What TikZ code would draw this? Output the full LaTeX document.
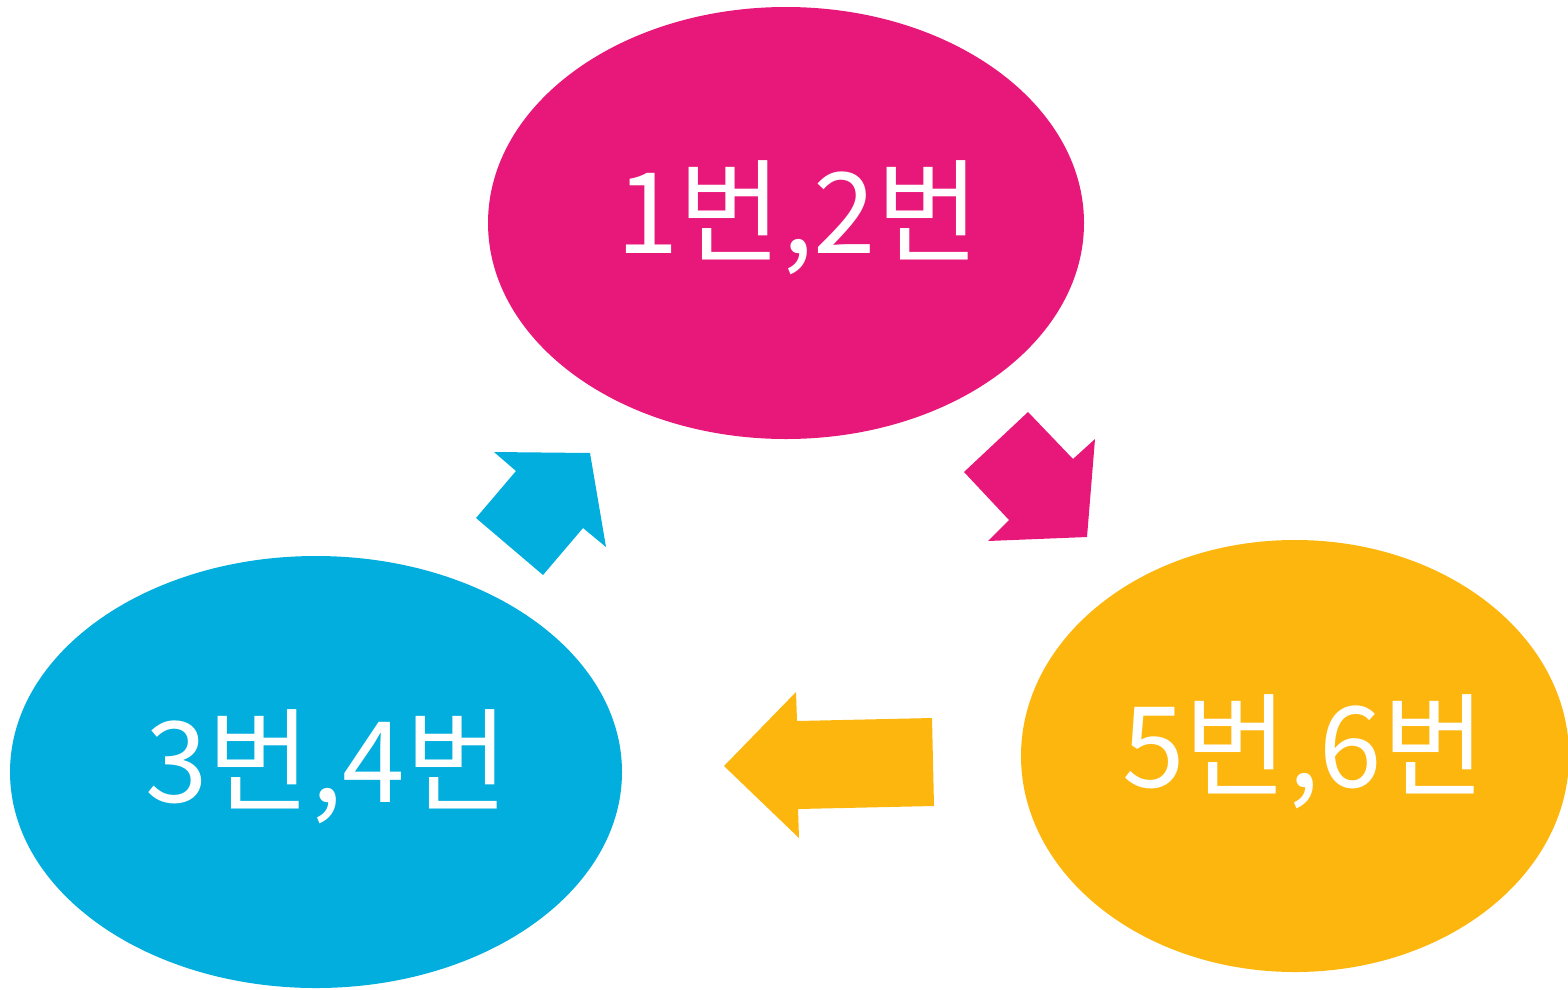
\documentclass[tikz,border=0pt]{standalone}
\usepackage{fontspec}
\newfontfamily\kofont{Noto Sans CJK KR}
\usetikzlibrary{shapes.geometric}
\definecolor{pinkish}{HTML}{E8177A}
\definecolor{bluish}{HTML}{02AEDD}
\definecolor{orangish}{HTML}{FDB60D}
\tikzset{
  blob/.style={shape=ellipse, draw=none, inner sep=0pt, minimum height=4.32cm},
  numtext/.style={text=white, font=\kofont\fontsize{32}{36}\selectfont}
}
\begin{document}
\begin{tikzpicture}
\useasboundingbox (0,0) rectangle (15.68,9.89);
\node[blob, fill=pinkish, minimum width=5.96cm] (P) at (7.86, 7.66) {};
\node[blob, fill=bluish, minimum width=6.12cm] (B) at (3.16, 2.17) {};
\node[blob, fill=orangish, minimum width=5.48cm] (O) at (12.95, 2.33) {};
\node[numtext] (Pt) at (7.98, 7.71) {1번,2번};
\node[numtext] (Bt) at (3.27, 2.22) {3번,4번};
\node[numtext] (Ot) at (13.04, 2.37) {5번,6번};
% block arrows
\fill[pinkish] (10.28,5.77) -- (10.73,5.30) -- (10.95,5.50) -- (10.87,4.52)
  -- (9.88,4.48) -- (10.09,4.69) -- (9.64,5.17) -- cycle;
\fill[orangish] (7.24,2.23) -- (7.96,2.97) -- (7.97,2.68) -- (9.32,2.71)
  -- (9.34,1.83) -- (7.98,1.80) -- (7.99,1.51) -- cycle;
\fill[bluish] (4.94,5.37) -- (5.90,5.36) -- (6.06,4.42) -- (5.83,4.61)
  -- (5.43,4.14) -- (4.76,4.71) -- (5.16,5.18) -- cycle;
\end{tikzpicture}
\end{document}
